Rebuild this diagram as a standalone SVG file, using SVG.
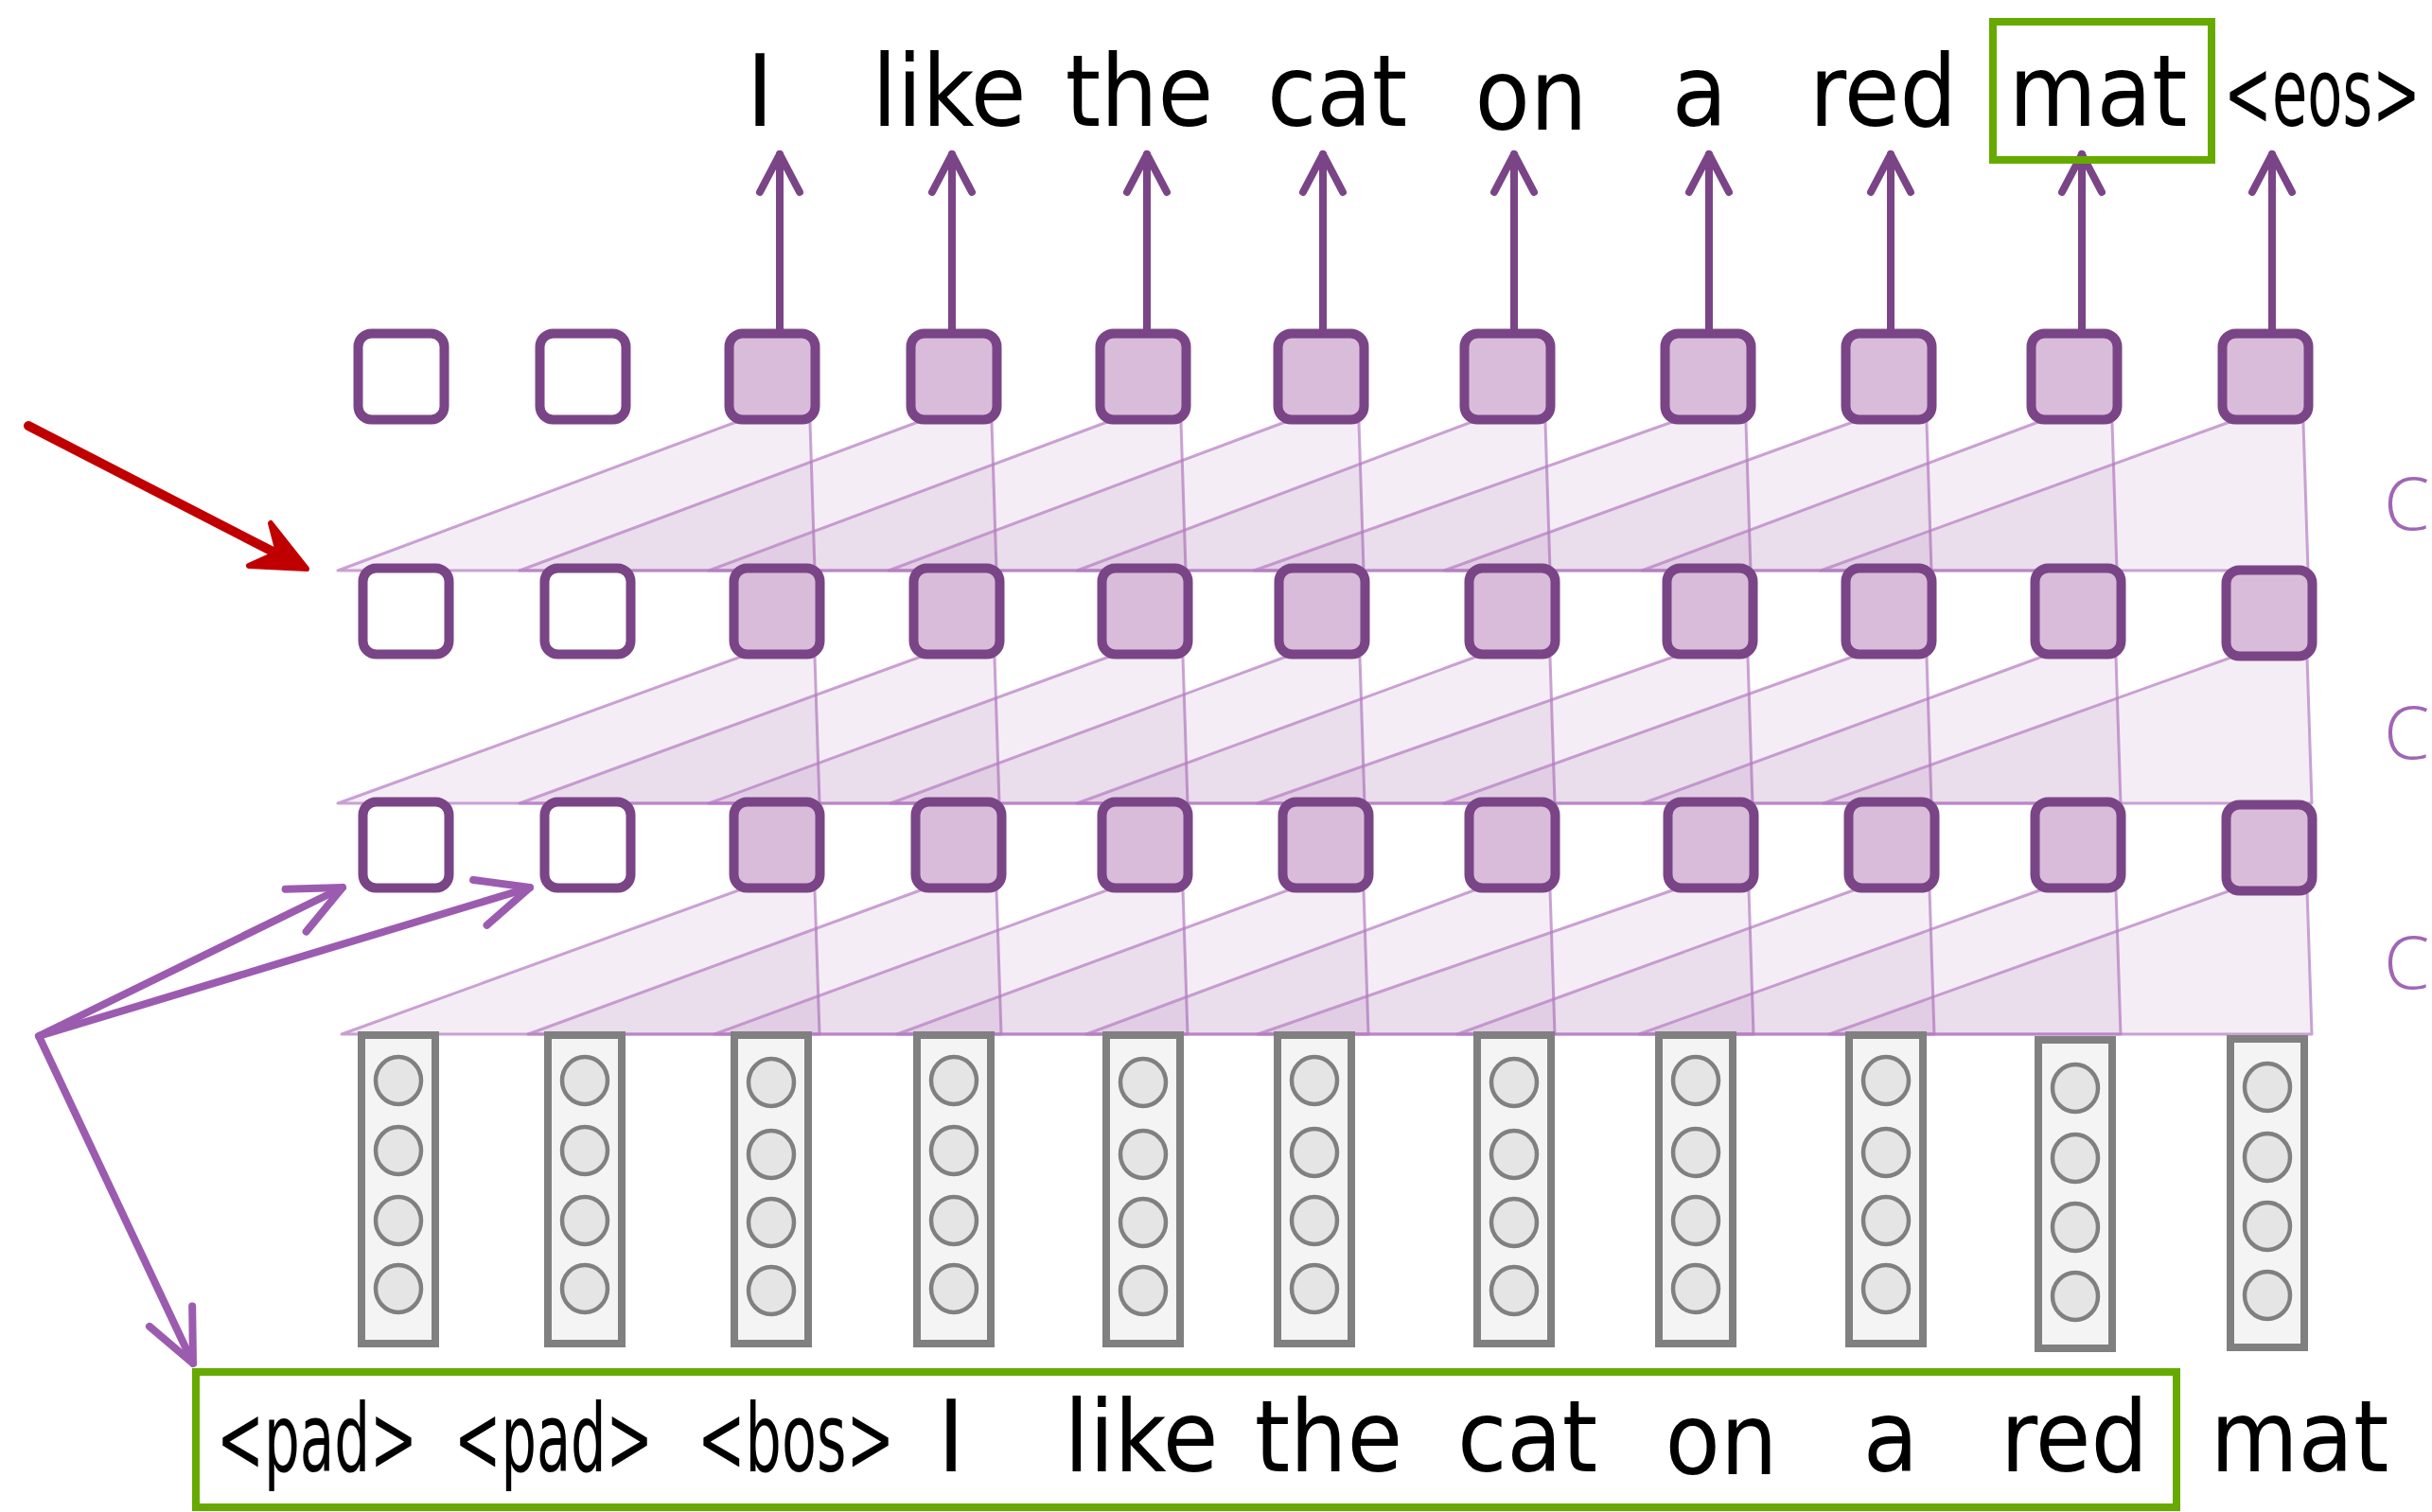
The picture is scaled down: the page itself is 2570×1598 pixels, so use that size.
<svg xmlns="http://www.w3.org/2000/svg" width="2570" height="1598" viewBox="0 0 2570 1598">
<style>
.word{font-family:'DejaVu Sans Condensed','DejaVu Sans',sans-serif;font-size:106px;fill:#000;text-anchor:middle}
.wordL{font-family:'DejaVu Sans Condensed','DejaVu Sans',sans-serif;font-size:100px;fill:#000}
.cl{font-family:'Open Sans','DejaVu Sans',sans-serif;font-weight:300;font-size:78px;fill:#a066b3}
.hb{fill:#ffffff;stroke:#7a4586;stroke-width:10}
.fb{fill:#d9bcda;stroke:#7a4586;stroke-width:10}
.field{fill:#9b59a6;fill-opacity:0.11;stroke:#b57cc2;stroke-opacity:0.7;stroke-width:3;stroke-linejoin:round}
.vec{fill:#f4f4f4;stroke:#808080;stroke-width:8}
.dot{fill:#e5e5e5;stroke:#808080;stroke-width:4.5}
.up{fill:none;stroke:#7a4586;stroke-width:8;stroke-linecap:round}
.pa{fill:none;stroke:#9b5cb0;stroke-width:8;stroke-linecap:round}
.green{fill:none;stroke:#66aa00;stroke-width:8}
</style>
<defs>
<marker id="ahUp" markerUnits="userSpaceOnUse" viewBox="-50 -30 60 60" refX="0" refY="0" markerWidth="60" markerHeight="60" orient="auto">
<path d="M -40 -21 L 0 0 L -40 21" fill="none" stroke="#7a4586" stroke-width="8" stroke-linecap="round" stroke-linejoin="round"/>
</marker>
<marker id="ahP" markerUnits="userSpaceOnUse" viewBox="-65 -35 75 70" refX="0" refY="0" markerWidth="75" markerHeight="70" orient="auto">
<path d="M -55 -25 L 0 0 L -55 25" fill="none" stroke="#9b5cb0" stroke-width="8" stroke-linecap="round" stroke-linejoin="round"/>
</marker>
</defs>
<rect width="2570" height="1598" fill="#ffffff"/>

<g id="conv-fields">
<g id="layer1-fields">
<polygon class="field" points="778,446 856,446 861,603 357,603"/>
<polygon class="field" points="970,446 1048,446 1053,603 549,603"/>
<polygon class="field" points="1170,446 1248,446 1253,603 749,603"/>
<polygon class="field" points="1358,446 1436,446 1441,603 939,603"/>
<polygon class="field" points="1555,446 1633,446 1638,603 1138,603"/>
<polygon class="field" points="1767,446 1845,446 1850,603 1325,603"/>
<polygon class="field" points="1958,446 2036,446 2041,603 1526,603"/>
<polygon class="field" points="2154,446 2232,446 2237,603 1735,603"/>
<polygon class="field" points="2356,446 2434,446 2439,603 1924,603"/>
</g>
<g id="layer2-fields">
<polygon class="field" points="783,694 861,694 866,849 357,849"/>
<polygon class="field" points="973,694 1051,694 1056,849 549,849"/>
<polygon class="field" points="1172,694 1250,694 1255,849 749,849"/>
<polygon class="field" points="1359,694 1437,694 1442,849 941,849"/>
<polygon class="field" points="1560,694 1638,694 1643,849 1138,849"/>
<polygon class="field" points="1769,694 1847,694 1852,849 1329,849"/>
<polygon class="field" points="1958,694 2036,694 2041,849 1526,849"/>
<polygon class="field" points="2158,694 2236,694 2241,849 1736,849"/>
<polygon class="field" points="2360,694 2438,694 2443,849 1927,849"/>
</g>
<g id="layer3-fields">
<polygon class="field" points="783,940 861,940 866,1093 361,1093"/>
<polygon class="field" points="975,940 1053,940 1058,1093 558,1093"/>
<polygon class="field" points="1172,940 1250,940 1255,1093 755,1093"/>
<polygon class="field" points="1363,940 1441,940 1446,1093 948,1093"/>
<polygon class="field" points="1560,940 1638,940 1643,1093 1148,1093"/>
<polygon class="field" points="1770,940 1848,940 1853,1093 1329,1093"/>
<polygon class="field" points="1961,940 2039,940 2044,1093 1540,1093"/>
<polygon class="field" points="2158,940 2236,940 2241,1093 1732,1093"/>
<polygon class="field" points="2360,940 2438,940 2443,1093 1933,1093"/>
</g>
</g>

<g id="connectors">
<line class="up" x1="824" y1="352" x2="824" y2="163" marker-end="url(#ahUp)"/>
<line class="up" x1="1006" y1="352" x2="1006" y2="163" marker-end="url(#ahUp)"/>
<line class="up" x1="1212" y1="352" x2="1212" y2="163" marker-end="url(#ahUp)"/>
<line class="up" x1="1398" y1="352" x2="1398" y2="163" marker-end="url(#ahUp)"/>
<line class="up" x1="1600" y1="352" x2="1600" y2="163" marker-end="url(#ahUp)"/>
<line class="up" x1="1806" y1="352" x2="1806" y2="163" marker-end="url(#ahUp)"/>
<line class="up" x1="1998" y1="352" x2="1998" y2="163" marker-end="url(#ahUp)"/>
<line class="up" x1="2200" y1="352" x2="2200" y2="163" marker-end="url(#ahUp)"/>
<line class="up" x1="2401" y1="352" x2="2401" y2="163" marker-end="url(#ahUp)"/>
<g id="red-arrow">
<line x1="30" y1="450" x2="300" y2="589" stroke="#c00000" stroke-width="10" stroke-linecap="round"/>
<polygon points="324,601 286,553 294,584 263,598" fill="#c00000" stroke="#c00000" stroke-width="6" stroke-linejoin="round"/>
</g>
<line class="pa" x1="41" y1="1095" x2="362" y2="938" marker-end="url(#ahP)"/>
<line class="pa" x1="41" y1="1095" x2="560" y2="938" marker-end="url(#ahP)"/>
<line class="pa" x1="41" y1="1095" x2="204" y2="1441" marker-end="url(#ahP)"/>
</g>

<g id="row1">
<rect id="r1c0" class="hb" x="378.5" y="352.5" width="91" height="91" rx="14"/>
<rect id="r1c1" class="hb" x="570.5" y="352.5" width="91" height="91" rx="14"/>
<rect id="r1c2" class="fb" x="770.5" y="352.5" width="91" height="91" rx="14"/>
<rect id="r1c3" class="fb" x="962.5" y="352.5" width="91" height="91" rx="14"/>
<rect id="r1c4" class="fb" x="1162.5" y="352.5" width="91" height="91" rx="14"/>
<rect id="r1c5" class="fb" x="1350.5" y="352.5" width="91" height="91" rx="14"/>
<rect id="r1c6" class="fb" x="1547.5" y="352.5" width="91" height="91" rx="14"/>
<rect id="r1c7" class="fb" x="1759.5" y="352.5" width="91" height="91" rx="14"/>
<rect id="r1c8" class="fb" x="1950.5" y="352.5" width="91" height="91" rx="14"/>
<rect id="r1c9" class="fb" x="2146.5" y="352.5" width="91" height="91" rx="14"/>
<rect id="r1c10" class="fb" x="2348.5" y="352.5" width="91" height="91" rx="14"/>
</g>
<g id="row2">
<rect id="r2c0" class="hb" x="383.5" y="600.5" width="91" height="91" rx="14"/>
<rect id="r2c1" class="hb" x="575.5" y="600.5" width="91" height="91" rx="14"/>
<rect id="r2c2" class="fb" x="775.5" y="600.5" width="91" height="91" rx="14"/>
<rect id="r2c3" class="fb" x="965.5" y="600.5" width="91" height="91" rx="14"/>
<rect id="r2c4" class="fb" x="1164.5" y="600.5" width="91" height="91" rx="14"/>
<rect id="r2c5" class="fb" x="1351.5" y="600.5" width="91" height="91" rx="14"/>
<rect id="r2c6" class="fb" x="1552.5" y="600.5" width="91" height="91" rx="14"/>
<rect id="r2c7" class="fb" x="1761.5" y="600.5" width="91" height="91" rx="14"/>
<rect id="r2c8" class="fb" x="1950.5" y="600.5" width="91" height="91" rx="14"/>
<rect id="r2c9" class="fb" x="2150.5" y="600.5" width="91" height="91" rx="14"/>
<rect id="r2c10" class="fb" x="2352.5" y="602.5" width="91" height="91" rx="14"/>
</g>
<g id="row3">
<rect id="r3c0" class="hb" x="383.5" y="847.5" width="91" height="91" rx="14"/>
<rect id="r3c1" class="hb" x="575.5" y="847.5" width="91" height="91" rx="14"/>
<rect id="r3c2" class="fb" x="775.5" y="847.5" width="91" height="91" rx="14"/>
<rect id="r3c3" class="fb" x="967.5" y="847.5" width="91" height="91" rx="14"/>
<rect id="r3c4" class="fb" x="1164.5" y="847.5" width="91" height="91" rx="14"/>
<rect id="r3c5" class="fb" x="1355.5" y="847.5" width="91" height="91" rx="14"/>
<rect id="r3c6" class="fb" x="1552.5" y="847.5" width="91" height="91" rx="14"/>
<rect id="r3c7" class="fb" x="1762.5" y="847.5" width="91" height="91" rx="14"/>
<rect id="r3c8" class="fb" x="1953.5" y="847.5" width="91" height="91" rx="14"/>
<rect id="r3c9" class="fb" x="2150.5" y="847.5" width="91" height="91" rx="14"/>
<rect id="r3c10" class="fb" x="2352.5" y="850.5" width="91" height="91" rx="14"/>
</g>

<g id="embeddings">
<g id="v0"><rect class="vec" x="382" y="1094" width="78" height="326"/><ellipse class="dot" cx="421" cy="1142" rx="24" ry="25"/><ellipse class="dot" cx="421" cy="1216" rx="24" ry="25"/><ellipse class="dot" cx="421" cy="1290" rx="24" ry="25"/><ellipse class="dot" cx="421" cy="1362" rx="24" ry="25"/></g>
<g id="v1"><rect class="vec" x="579" y="1094" width="78" height="326"/><ellipse class="dot" cx="618" cy="1142" rx="24" ry="25"/><ellipse class="dot" cx="618" cy="1216" rx="24" ry="25"/><ellipse class="dot" cx="618" cy="1290" rx="24" ry="25"/><ellipse class="dot" cx="618" cy="1362" rx="24" ry="25"/></g>
<g id="v2"><rect class="vec" x="776" y="1094" width="78" height="326"/><ellipse class="dot" cx="815" cy="1144" rx="24" ry="25"/><ellipse class="dot" cx="815" cy="1220" rx="24" ry="25"/><ellipse class="dot" cx="815" cy="1292" rx="24" ry="25"/><ellipse class="dot" cx="815" cy="1364" rx="24" ry="25"/></g>
<g id="v3"><rect class="vec" x="969" y="1094" width="78" height="326"/><ellipse class="dot" cx="1008" cy="1142" rx="24" ry="25"/><ellipse class="dot" cx="1008" cy="1216" rx="24" ry="25"/><ellipse class="dot" cx="1008" cy="1290" rx="24" ry="25"/><ellipse class="dot" cx="1008" cy="1362" rx="24" ry="25"/></g>
<g id="v4"><rect class="vec" x="1169" y="1094" width="78" height="326"/><ellipse class="dot" cx="1208" cy="1144" rx="24" ry="25"/><ellipse class="dot" cx="1208" cy="1220" rx="24" ry="25"/><ellipse class="dot" cx="1208" cy="1292" rx="24" ry="25"/><ellipse class="dot" cx="1208" cy="1364" rx="24" ry="25"/></g>
<g id="v5"><rect class="vec" x="1350" y="1094" width="78" height="326"/><ellipse class="dot" cx="1389" cy="1142" rx="24" ry="25"/><ellipse class="dot" cx="1389" cy="1218" rx="24" ry="25"/><ellipse class="dot" cx="1389" cy="1290" rx="24" ry="25"/><ellipse class="dot" cx="1389" cy="1362" rx="24" ry="25"/></g>
<g id="v6"><rect class="vec" x="1561" y="1094" width="78" height="326"/><ellipse class="dot" cx="1600" cy="1144" rx="24" ry="25"/><ellipse class="dot" cx="1600" cy="1220" rx="24" ry="25"/><ellipse class="dot" cx="1600" cy="1292" rx="24" ry="25"/><ellipse class="dot" cx="1600" cy="1364" rx="24" ry="25"/></g>
<g id="v7"><rect class="vec" x="1753" y="1094" width="78" height="326"/><ellipse class="dot" cx="1792" cy="1142" rx="24" ry="25"/><ellipse class="dot" cx="1792" cy="1218" rx="24" ry="25"/><ellipse class="dot" cx="1792" cy="1290" rx="24" ry="25"/><ellipse class="dot" cx="1792" cy="1362" rx="24" ry="25"/></g>
<g id="v8"><rect class="vec" x="1954" y="1094" width="78" height="326"/><ellipse class="dot" cx="1993" cy="1142" rx="24" ry="25"/><ellipse class="dot" cx="1993" cy="1218" rx="24" ry="25"/><ellipse class="dot" cx="1993" cy="1290" rx="24" ry="25"/><ellipse class="dot" cx="1993" cy="1362" rx="24" ry="25"/></g>
<g id="v9"><rect class="vec" x="2154" y="1099" width="78" height="326"/><ellipse class="dot" cx="2193" cy="1150" rx="24" ry="25"/><ellipse class="dot" cx="2193" cy="1224" rx="24" ry="25"/><ellipse class="dot" cx="2193" cy="1297" rx="24" ry="25"/><ellipse class="dot" cx="2193" cy="1370" rx="24" ry="25"/></g>
<g id="v10"><rect class="vec" x="2357" y="1098" width="78" height="326"/><ellipse class="dot" cx="2396" cy="1149" rx="24" ry="25"/><ellipse class="dot" cx="2396" cy="1223" rx="24" ry="25"/><ellipse class="dot" cx="2396" cy="1296" rx="24" ry="25"/><ellipse class="dot" cx="2396" cy="1369" rx="24" ry="25"/></g>
</g>

<g id="output-words">
<text class="word" x="803" y="133">I</text>
<text class="word" x="1003" y="133">like</text>
<text class="word" x="1204" y="133">the</text>
<text class="word" x="1413" y="133">cat</text>
<text class="word" x="1618" y="137">on</text>
<text class="word" x="1796" y="133">a</text>
<text class="word" x="1990" y="133">red</text>
<text class="word" x="2217" y="133">mat</text>
<text class="wordL" x="2350" y="133" textLength="208" lengthAdjust="spacingAndGlyphs">&lt;eos&gt;</text>
<rect id="target-box" class="green" x="2106" y="23" width="231" height="146"/>
</g>

<g id="input-words">
<rect id="context-box" class="green" x="207" y="1450" width="2093" height="143"/>
<text class="wordL" x="229" y="1555" textLength="212" lengthAdjust="spacingAndGlyphs">&lt;pad&gt;</text>
<text class="wordL" x="480" y="1555" textLength="210" lengthAdjust="spacingAndGlyphs">&lt;pad&gt;</text>
<text class="wordL" x="737" y="1555" textLength="208" lengthAdjust="spacingAndGlyphs">&lt;bos&gt;</text>
<text class="word" x="1005" y="1555">I</text>
<text class="word" x="1206" y="1555">like</text>
<text class="word" x="1404" y="1555">the</text>
<text class="word" x="1614" y="1555">cat</text>
<text class="word" x="1819" y="1558">on</text>
<text class="word" x="1998" y="1555">a</text>
<text class="word" x="2192" y="1555">red</text>
<text class="word" x="2430" y="1555">mat</text>
</g>

<g id="side-labels">
<text class="cl" x="2519" y="560">C</text>
<text class="cl" x="2519" y="802">C</text>
<text class="cl" x="2519" y="1045">C</text>
</g>
</svg>
